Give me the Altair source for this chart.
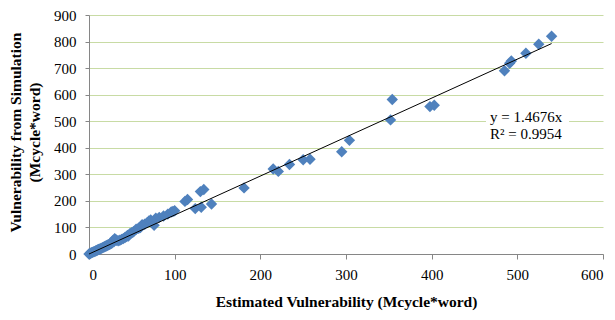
import altair as alt
import pandas as pd

# Estimated vulnerability (x) vs vulnerability from simulation (y), Mcycle*word
est = [0, 1, 2, 3, 4, 5, 6, 7, 8, 9, 10, 11, 12, 13, 14, 15, 16, 17, 18, 19, 20,
       21, 22, 23, 24, 25, 26, 27, 28, 29, 30, 31, 32, 34, 36, 38, 40, 42, 44, 45,
       46, 48, 50, 52, 55, 58, 60, 62, 65, 68, 70, 72, 76, 78, 82, 87, 92, 96, 98, 100,
       112, 115, 124, 131, 130, 134, 143, 181, 215, 221, 234, 250, 258, 295, 304,
       352, 354, 398, 403, 485, 491, 493, 510, 525, 540]
sim = [0, 1, 3, 5, 6, 8, 9, 10, 12, 13, 15, 17, 18, 19, 21, 22, 24, 26, 27, 29, 30,
       32, 34, 35, 37, 38, 40, 42, 50, 46, 58, 54, 52, 50, 52, 55, 58, 62, 66, 70,
       68, 77, 80, 84, 93, 97, 100, 110, 112, 118, 124, 128, 108, 135, 138, 143, 150, 158, 160, 163,
       198, 205, 171, 176, 235, 243, 188, 249, 320, 311, 337, 355, 357, 385, 428,
       505, 582, 555, 560, 690, 718, 727, 756, 790, 820]

trend_x = [0, 540]
trend_y = [0, 792.5]

eq_lines = ["y = 1.4676x", "R² = 0.9954"]

x_ticks = [0, 100, 200, 300, 400, 500, 600]
y_ticks = [0, 100, 200, 300, 400, 500, 600, 700, 800, 900]

FONT = "Liberation Serif"
AXIS_GREY = "#868686"

pts = pd.DataFrame({"x": est, "y": sim})
trend = pd.DataFrame({"x": trend_x, "y": trend_y})

xscale = alt.Scale(domain=[0, 600], nice=False)
yscale = alt.Scale(domain=[0, 900], nice=False)

xaxis = alt.Axis(values=x_ticks, grid=False, domainColor=AXIS_GREY, tickColor=AXIS_GREY,
                 tickSize=5, labelPadding=8, labelFont=FONT, labelFontSize=15,
                 labelColor="black", labelOverlap=False,
                 title="Estimated Vulnerability (Mcycle*word)",
                 titleFont=FONT, titleFontSize=15.5, titleFontWeight="bold",
                 titleColor="black", titleY=47, titleBaseline="middle")
yaxis = alt.Axis(values=y_ticks, grid=True, gridColor="#c8dba4", gridWidth=1,
                 domainColor=AXIS_GREY, tickColor=AXIS_GREY, tickSize=4,
                 labelPadding=9, labelFont=FONT, labelFontSize=15, labelColor="black",
                 labelOverlap=False,
                 title=["Vulnerability from Simulation", "(Mcycle*word)"],
                 titleFont=FONT, titleFontSize=15.5, titleFontWeight="bold",
                 titleColor="black", titleLineHeight=19, titleBaseline="middle",
                 titleX=-74, titleY=117, titleAngle=-90)

points = alt.Chart(pts).mark_point(shape="diamond", filled=True, size=130,
                                   color="#4f81bd", opacity=1).encode(
    x=alt.X("x:Q", scale=xscale, axis=xaxis),
    y=alt.Y("y:Q", scale=yscale, axis=yaxis),
)

line = alt.Chart(trend).mark_line(color="black", strokeWidth=1).encode(
    x=alt.X("x:Q", scale=xscale, axis=xaxis),
    y=alt.Y("y:Q", scale=yscale, axis=yaxis),
)

box = alt.Chart(pd.DataFrame({"a": [0]})).mark_rect(color="white").encode(
    x=alt.value(397), x2=alt.value(480), y=alt.value(93), y2=alt.value(127)
)

eq_df = pd.DataFrame({"t": eq_lines, "py": [102, 119]})
eq = alt.Chart(eq_df).mark_text(align="left", baseline="middle", font=FONT,
                                fontSize=15, color="black").encode(
    text="t:N", x=alt.value(401), y=alt.Y("py:Q", scale=None, axis=None)
)

chart = alt.layer(points, line, box, eq).properties(
    width=514, height=239,
    autosize=alt.AutoSizeParams(type="none"),
    padding={"left": 81, "top": 7, "right": 4, "bottom": 60},
).configure_view(stroke=None)

chart.save("out.html", embed_options={"renderer": "svg", "actions": False})
